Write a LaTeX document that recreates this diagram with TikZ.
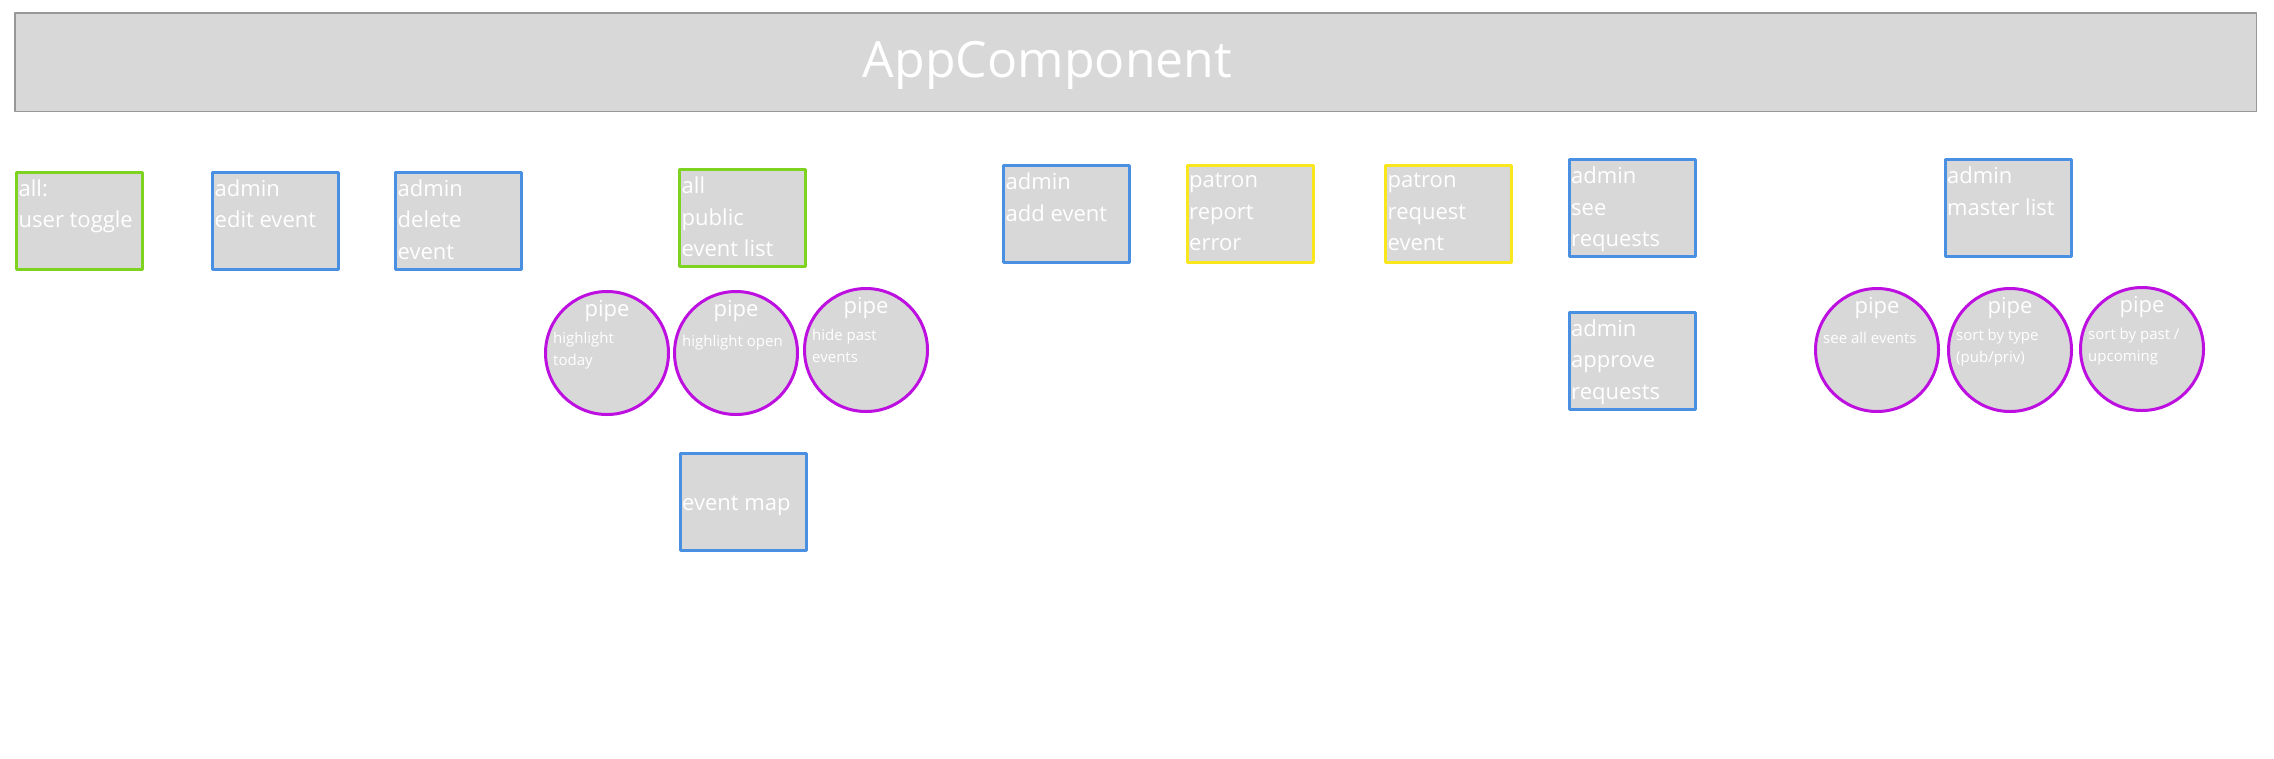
\documentclass[tikz,border=0pt]{standalone}
\usepackage{fontspec}
\setmainfont{Open Sans}
\usetikzlibrary{calc}
\definecolor{boxgray}{HTML}{D8D8D8}
\definecolor{bargray}{HTML}{979797}
\definecolor{adminblue}{HTML}{4A90E2}
\definecolor{allgreen}{HTML}{7ED321}
\definecolor{patronyellow}{HTML}{F8E71C}
\definecolor{pipepurple}{HTML}{BD10E0}
\begin{document}
\begin{tikzpicture}[x=1pt, y=-1pt, line join=round]
\tikzset{
  compbox/.style={draw=#1, line width=3pt, fill=boxgray, minimum width=126pt, minimum height=97pt, inner sep=0pt},
  boxtext/.style={anchor=north west, inner sep=0pt, align=left, text=white, font=\fontsize{22}{31.5}\selectfont, execute at begin node={\rule{0pt}{20pt}}},
  pipecirc/.style={circle, draw=pipepurple, line width=3pt, fill=boxgray, minimum size=123pt, inner sep=0pt},
  pipehead/.style={anchor=base, inner sep=0pt, text=white, font=\fontsize{22}{26}\selectfont},
  pipetext/.style={anchor=north west, inner sep=0pt, align=left, text=white, font=\fontsize{15}{22}\selectfont, execute at begin node={\rule{0pt}{14pt}}}
}
\useasboundingbox (0,0) rectangle (2274,758);
% top bar
\node[draw=bargray, line width=1.5pt, fill=boxgray, minimum width=2241.5pt, minimum height=98.5pt, inner sep=0pt] (app) at (1135.5,62) {};
\node[anchor=base, inner sep=0pt, text=white, font=\fontsize{50}{60}\selectfont] (apptitle) at (1047.5,77) {AppComponent};
% component boxes
\foreach \n/\x/\y/\col/\txt in {
    toggle/79.5/220.5/allgreen/{all:\\user toggle},
    edit/275.5/220.5/adminblue/{admin\\edit event},
    delete/458.5/220.5/adminblue/{admin\\delete\\event},
    publist/742.5/218/allgreen/{all\\public\\event list},
    addevent/1066.5/214/adminblue/{admin\\add event},
    report/1250/214/patronyellow/{patron\\report\\error},
    request/1448.5/214/patronyellow/{patron\\request\\event},
    seereq/1632/208/adminblue/{admin\\see\\requests},
    approve/1632/360.5/adminblue/{admin\\approve\\requests},
    master/2008/208/adminblue/{admin\\master list}}{
  \node[compbox=\col] (\n) at (\x,\y) {};
  \node[boxtext] (\n-txt) at ($(\n.north west)+(3.5,9)$) {\txt};
}
\node[compbox=adminblue] (eventmap) at (743,501.5) {};
\node[anchor=base west, inner sep=0pt, text=white, font=\fontsize{22}{31.5}\selectfont] (eventmap-txt) at ($(eventmap.west)+(3.5,9)$) {event map};
% pipes
\foreach \n/\x/\y/\txt in {
    hltoday/607/353/{highlight\\today},
    hlopen/736/353/{highlight open},
    hidepast/866/350/{hide past\\events},
    seeall/1877/350/{see all events},
    sorttype/2010/350/{sort by type\\(pub/priv)},
    sortpast/2142/349/{sort by past /\\upcoming}}{
  \node[pipecirc] (\n) at (\x,\y) {};
  \node[pipehead] (\n-head) at ($(\n.center)+(0,-37)$) {pipe};
  \node[pipetext] (\n-txt) at ($(\n.center)+(-54,-21)$) {\txt};
}
\end{tikzpicture}
\end{document}
